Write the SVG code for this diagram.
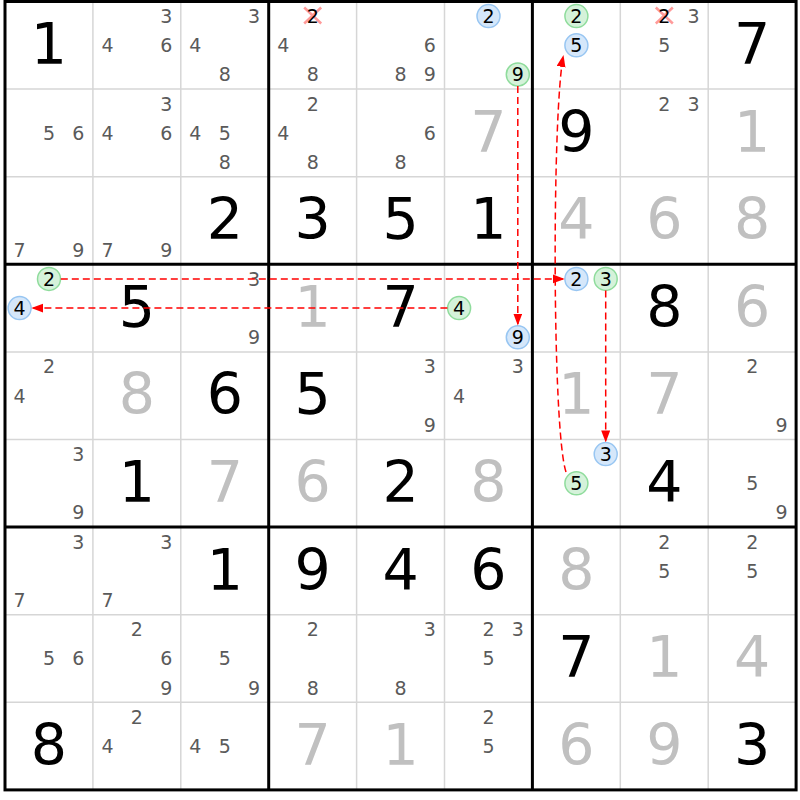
<svg xmlns="http://www.w3.org/2000/svg" width="800" height="800" viewBox="0 0 800 800">
<defs>
<style>
.thin{stroke:#d6d6d6;stroke-width:1.5}
.thick{stroke:#000;stroke-width:3;fill:none}
text{font-family:"DejaVu Sans","Liberation Sans",sans-serif;text-anchor:middle}
.g{font-size:57px;fill:#000}
.s{font-size:57px;fill:#c0c0c0}
.c{font-size:19px;fill:#5a5a5a}
.k{font-size:19px;fill:#000}
.gc{fill:#d5f2da;stroke:#8fdc9c;stroke-width:1.5}
.bc{fill:#d5e7fa;stroke:#98c6f2;stroke-width:1.5}
.x{stroke:#ff9a9a;stroke-width:2.5}
.arr{fill:none;stroke:#ff0000;stroke-width:1.5;stroke-dasharray:7 4;marker-end:url(#ah)}
</style>
<marker id="ah" markerUnits="userSpaceOnUse" markerWidth="12" markerHeight="10" refX="12" refY="4.5" orient="auto">
<path d="M0,0 L12,4.5 L0,9 z" fill="#ff0000"/>
</marker>
</defs>
<rect width="800" height="800" fill="#fff"/>
<g id="grid">
<g class="thin">
<line x1="92.9" y1="1.5" x2="92.9" y2="789.9"/><line x1="180.8" y1="1.5" x2="180.8" y2="789.9"/>
<line x1="356.6" y1="1.5" x2="356.6" y2="789.9"/><line x1="444.5" y1="1.5" x2="444.5" y2="789.9"/>
<line x1="620.3" y1="1.5" x2="620.3" y2="789.9"/><line x1="708.2" y1="1.5" x2="708.2" y2="789.9"/>
<line x1="5" y1="89.1" x2="796.1" y2="89.1"/><line x1="5" y1="176.7" x2="796.1" y2="176.7"/>
<line x1="5" y1="351.9" x2="796.1" y2="351.9"/><line x1="5" y1="439.5" x2="796.1" y2="439.5"/>
<line x1="5" y1="614.7" x2="796.1" y2="614.7"/><line x1="5" y1="702.3" x2="796.1" y2="702.3"/>
</g>
<g class="thick">
<line x1="268.7" y1="1.5" x2="268.7" y2="789.9"/><line x1="532.4" y1="1.5" x2="532.4" y2="789.9"/>
<line x1="5" y1="264.3" x2="796.1" y2="264.3"/><line x1="5" y1="527.1" x2="796.1" y2="527.1"/>
<rect x="5" y="1.5" width="791.1" height="788.4"/>
</g>
</g>

<!-- row 0 -->
<g id="r0c0" transform="translate(5,1.5)"><text class="g" x="44" y="62.5">1</text></g>
<g id="r0c1" transform="translate(92.9,1.5)"><text class="c" x="73.3" y="21.5">3</text><text class="c" x="14.6" y="50.7">4</text><text class="c" x="73.3" y="50.7">6</text></g>
<g id="r0c2" transform="translate(180.8,1.5)"><text class="c" x="73.3" y="21.5">3</text><text class="c" x="14.6" y="50.7">4</text><text class="c" x="44" y="79.9">8</text></g>
<g id="r0c3" transform="translate(268.7,1.5)"><line class="x" x1="35.5" y1="6" x2="52.5" y2="22"/><line class="x" x1="52.5" y1="6" x2="35.5" y2="22"/><text class="k" x="44" y="21.5">2</text><text class="c" x="14.6" y="50.7">4</text><text class="c" x="44" y="79.9">8</text></g>
<g id="r0c4" transform="translate(356.6,1.5)"><text class="c" x="73.3" y="50.7">6</text><text class="c" x="44" y="79.9">8</text><text class="c" x="73.3" y="79.9">9</text></g>
<g id="r0c5" transform="translate(444.5,1.5)"><circle class="bc" cx="44" cy="14.6" r="11.5"/><text class="k" x="44" y="21.5">2</text><circle class="gc" cx="73.3" cy="73" r="11.5"/><text class="k" x="73.3" y="79.9">9</text></g>
<g id="r0c6" transform="translate(532.4,1.5)"><circle class="gc" cx="44" cy="14.6" r="11.5"/><text class="k" x="44" y="21.5">2</text><circle class="bc" cx="44" cy="43.8" r="11.5"/><text class="k" x="44" y="50.7">5</text></g>
<g id="r0c7" transform="translate(620.3,1.5)"><line class="x" x1="35.5" y1="6" x2="52.5" y2="22"/><line class="x" x1="52.5" y1="6" x2="35.5" y2="22"/><text class="k" x="44" y="21.5">2</text><text class="c" x="73.3" y="21.5">3</text><text class="c" x="44" y="50.7">5</text></g>
<g id="r0c8" transform="translate(708.2,1.5)"><text class="g" x="44" y="62.5">7</text></g>

<!-- row 1 -->
<g id="r1c0" transform="translate(5,89.1)"><text class="c" x="44" y="50.7">5</text><text class="c" x="73.3" y="50.7">6</text></g>
<g id="r1c1" transform="translate(92.9,89.1)"><text class="c" x="73.3" y="21.5">3</text><text class="c" x="14.6" y="50.7">4</text><text class="c" x="73.3" y="50.7">6</text></g>
<g id="r1c2" transform="translate(180.8,89.1)"><text class="c" x="14.6" y="50.7">4</text><text class="c" x="44" y="50.7">5</text><text class="c" x="44" y="79.9">8</text></g>
<g id="r1c3" transform="translate(268.7,89.1)"><text class="c" x="44" y="21.5">2</text><text class="c" x="14.6" y="50.7">4</text><text class="c" x="44" y="79.9">8</text></g>
<g id="r1c4" transform="translate(356.6,89.1)"><text class="c" x="73.3" y="50.7">6</text><text class="c" x="44" y="79.9">8</text></g>
<g id="r1c5" transform="translate(444.5,89.1)"><text class="s" x="44" y="62.5">7</text></g>
<g id="r1c6" transform="translate(532.4,89.1)"><text class="g" x="44" y="62.5">9</text></g>
<g id="r1c7" transform="translate(620.3,89.1)"><text class="c" x="44" y="21.5">2</text><text class="c" x="73.3" y="21.5">3</text></g>
<g id="r1c8" transform="translate(708.2,89.1)"><text class="s" x="44" y="62.5">1</text></g>

<!-- row 2 -->
<g id="r2c0" transform="translate(5,176.7)"><text class="c" x="14.6" y="79.9">7</text><text class="c" x="73.3" y="79.9">9</text></g>
<g id="r2c1" transform="translate(92.9,176.7)"><text class="c" x="14.6" y="79.9">7</text><text class="c" x="73.3" y="79.9">9</text></g>
<g id="r2c2" transform="translate(180.8,176.7)"><text class="g" x="44" y="62.5">2</text></g>
<g id="r2c3" transform="translate(268.7,176.7)"><text class="g" x="44" y="62.5">3</text></g>
<g id="r2c4" transform="translate(356.6,176.7)"><text class="g" x="44" y="62.5">5</text></g>
<g id="r2c5" transform="translate(444.5,176.7)"><text class="g" x="44" y="62.5">1</text></g>
<g id="r2c6" transform="translate(532.4,176.7)"><text class="s" x="44" y="62.5">4</text></g>
<g id="r2c7" transform="translate(620.3,176.7)"><text class="s" x="44" y="62.5">6</text></g>
<g id="r2c8" transform="translate(708.2,176.7)"><text class="s" x="44" y="62.5">8</text></g>

<!-- row 3 -->
<g id="r3c0" transform="translate(5,264.3)"><circle class="gc" cx="44" cy="14.6" r="11.5"/><text class="k" x="44" y="21.5">2</text><circle class="bc" cx="14.6" cy="43.8" r="11.5"/><text class="k" x="14.6" y="50.7">4</text></g>
<g id="r3c1" transform="translate(92.9,264.3)"><text class="g" x="44" y="62.5">5</text></g>
<g id="r3c2" transform="translate(180.8,264.3)"><text class="c" x="73.3" y="21.5">3</text><text class="c" x="73.3" y="79.9">9</text></g>
<g id="r3c3" transform="translate(268.7,264.3)"><text class="s" x="44" y="62.5">1</text></g>
<g id="r3c4" transform="translate(356.6,264.3)"><text class="g" x="44" y="62.5">7</text></g>
<g id="r3c5" transform="translate(444.5,264.3)"><circle class="gc" cx="14.6" cy="43.8" r="11.5"/><text class="k" x="14.6" y="50.7">4</text><circle class="bc" cx="73.3" cy="73" r="11.5"/><text class="k" x="73.3" y="79.9">9</text></g>
<g id="r3c6" transform="translate(532.4,264.3)"><circle class="bc" cx="44" cy="14.6" r="11.5"/><text class="k" x="44" y="21.5">2</text><circle class="gc" cx="73.3" cy="14.6" r="11.5"/><text class="k" x="73.3" y="21.5">3</text></g>
<g id="r3c7" transform="translate(620.3,264.3)"><text class="g" x="44" y="62.5">8</text></g>
<g id="r3c8" transform="translate(708.2,264.3)"><text class="s" x="44" y="62.5">6</text></g>

<!-- row 4 -->
<g id="r4c0" transform="translate(5,351.9)"><text class="c" x="44" y="21.5">2</text><text class="c" x="14.6" y="50.7">4</text></g>
<g id="r4c1" transform="translate(92.9,351.9)"><text class="s" x="44" y="62.5">8</text></g>
<g id="r4c2" transform="translate(180.8,351.9)"><text class="g" x="44" y="62.5">6</text></g>
<g id="r4c3" transform="translate(268.7,351.9)"><text class="g" x="44" y="62.5">5</text></g>
<g id="r4c4" transform="translate(356.6,351.9)"><text class="c" x="73.3" y="21.5">3</text><text class="c" x="73.3" y="79.9">9</text></g>
<g id="r4c5" transform="translate(444.5,351.9)"><text class="c" x="73.3" y="21.5">3</text><text class="c" x="14.6" y="50.7">4</text></g>
<g id="r4c6" transform="translate(532.4,351.9)"><text class="s" x="44" y="62.5">1</text></g>
<g id="r4c7" transform="translate(620.3,351.9)"><text class="s" x="44" y="62.5">7</text></g>
<g id="r4c8" transform="translate(708.2,351.9)"><text class="c" x="44" y="21.5">2</text><text class="c" x="73.3" y="79.9">9</text></g>

<!-- row 5 -->
<g id="r5c0" transform="translate(5,439.5)"><text class="c" x="73.3" y="21.5">3</text><text class="c" x="73.3" y="79.9">9</text></g>
<g id="r5c1" transform="translate(92.9,439.5)"><text class="g" x="44" y="62.5">1</text></g>
<g id="r5c2" transform="translate(180.8,439.5)"><text class="s" x="44" y="62.5">7</text></g>
<g id="r5c3" transform="translate(268.7,439.5)"><text class="s" x="44" y="62.5">6</text></g>
<g id="r5c4" transform="translate(356.6,439.5)"><text class="g" x="44" y="62.5">2</text></g>
<g id="r5c5" transform="translate(444.5,439.5)"><text class="s" x="44" y="62.5">8</text></g>
<g id="r5c6" transform="translate(532.4,439.5)"><circle class="bc" cx="73.3" cy="14.6" r="11.5"/><text class="k" x="73.3" y="21.5">3</text><circle class="gc" cx="44" cy="43.8" r="11.5"/><text class="k" x="44" y="50.7">5</text></g>
<g id="r5c7" transform="translate(620.3,439.5)"><text class="g" x="44" y="62.5">4</text></g>
<g id="r5c8" transform="translate(708.2,439.5)"><text class="c" x="44" y="50.7">5</text><text class="c" x="73.3" y="79.9">9</text></g>

<!-- row 6 -->
<g id="r6c0" transform="translate(5,527.1)"><text class="c" x="73.3" y="21.5">3</text><text class="c" x="14.6" y="79.9">7</text></g>
<g id="r6c1" transform="translate(92.9,527.1)"><text class="c" x="73.3" y="21.5">3</text><text class="c" x="14.6" y="79.9">7</text></g>
<g id="r6c2" transform="translate(180.8,527.1)"><text class="g" x="44" y="62.5">1</text></g>
<g id="r6c3" transform="translate(268.7,527.1)"><text class="g" x="44" y="62.5">9</text></g>
<g id="r6c4" transform="translate(356.6,527.1)"><text class="g" x="44" y="62.5">4</text></g>
<g id="r6c5" transform="translate(444.5,527.1)"><text class="g" x="44" y="62.5">6</text></g>
<g id="r6c6" transform="translate(532.4,527.1)"><text class="s" x="44" y="62.5">8</text></g>
<g id="r6c7" transform="translate(620.3,527.1)"><text class="c" x="44" y="21.5">2</text><text class="c" x="44" y="50.7">5</text></g>
<g id="r6c8" transform="translate(708.2,527.1)"><text class="c" x="44" y="21.5">2</text><text class="c" x="44" y="50.7">5</text></g>

<!-- row 7 -->
<g id="r7c0" transform="translate(5,614.7)"><text class="c" x="44" y="50.7">5</text><text class="c" x="73.3" y="50.7">6</text></g>
<g id="r7c1" transform="translate(92.9,614.7)"><text class="c" x="44" y="21.5">2</text><text class="c" x="73.3" y="50.7">6</text><text class="c" x="73.3" y="79.9">9</text></g>
<g id="r7c2" transform="translate(180.8,614.7)"><text class="c" x="44" y="50.7">5</text><text class="c" x="73.3" y="79.9">9</text></g>
<g id="r7c3" transform="translate(268.7,614.7)"><text class="c" x="44" y="21.5">2</text><text class="c" x="44" y="79.9">8</text></g>
<g id="r7c4" transform="translate(356.6,614.7)"><text class="c" x="73.3" y="21.5">3</text><text class="c" x="44" y="79.9">8</text></g>
<g id="r7c5" transform="translate(444.5,614.7)"><text class="c" x="44" y="21.5">2</text><text class="c" x="73.3" y="21.5">3</text><text class="c" x="44" y="50.7">5</text></g>
<g id="r7c6" transform="translate(532.4,614.7)"><text class="g" x="44" y="62.5">7</text></g>
<g id="r7c7" transform="translate(620.3,614.7)"><text class="s" x="44" y="62.5">1</text></g>
<g id="r7c8" transform="translate(708.2,614.7)"><text class="s" x="44" y="62.5">4</text></g>

<!-- row 8 -->
<g id="r8c0" transform="translate(5,702.3)"><text class="g" x="44" y="62.5">8</text></g>
<g id="r8c1" transform="translate(92.9,702.3)"><text class="c" x="44" y="21.5">2</text><text class="c" x="14.6" y="50.7">4</text></g>
<g id="r8c2" transform="translate(180.8,702.3)"><text class="c" x="14.6" y="50.7">4</text><text class="c" x="44" y="50.7">5</text></g>
<g id="r8c3" transform="translate(268.7,702.3)"><text class="s" x="44" y="62.5">7</text></g>
<g id="r8c4" transform="translate(356.6,702.3)"><text class="s" x="44" y="62.5">1</text></g>
<g id="r8c5" transform="translate(444.5,702.3)"><text class="c" x="44" y="21.5">2</text><text class="c" x="44" y="50.7">5</text></g>
<g id="r8c6" transform="translate(532.4,702.3)"><text class="s" x="44" y="62.5">6</text></g>
<g id="r8c7" transform="translate(620.3,702.3)"><text class="s" x="44" y="62.5">9</text></g>
<g id="r8c8" transform="translate(708.2,702.3)"><text class="g" x="44" y="62.5">3</text></g>

<g id="connectors">
<path class="arr" d="M517.8,86 L517.8,325.5"/>
<path class="arr" d="M60.8,278.9 L564.7,278.9"/>
<path class="arr" d="M447.4,308.1 L31.3,308.1"/>
<path class="arr" d="M605.7,290.6 L605.7,442.4"/>
<path class="arr" d="M566,472 C552,430 552,110 563.5,55"/>
</g>
</svg>
